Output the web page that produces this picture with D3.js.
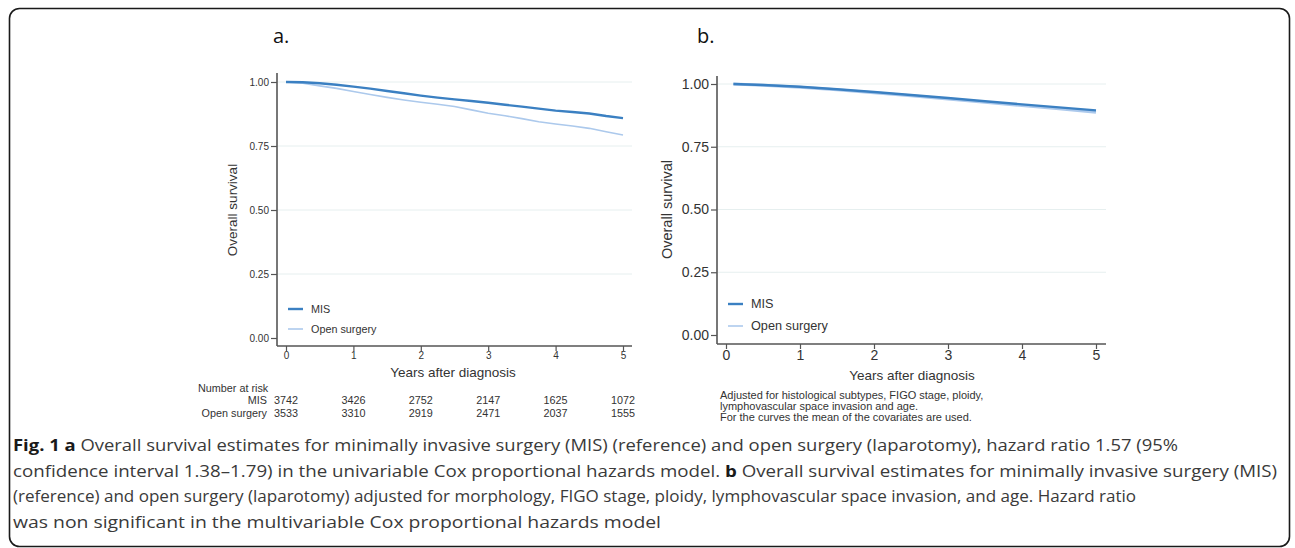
<!DOCTYPE html>
<html>
<head>
<meta charset="UTF-8" />
<script src="https://d3js.org/d3.v7.min.js"></script>
<style>
  body { margin: 0; background: white; }
  svg text { font-family: "Liberation Sans", Arial, sans-serif; fill: #333; }
  .caption text { font-family: "Open Sans", sans-serif; fill: #3a3a3a; }
</style>
</head>
<body>
<svg id="fig" width="1295" height="548"></svg>
<script>
// ---- data ----
const yearTicks = [0, 1, 2, 3, 4, 5];
const survTicks = [0, 0.25, 0.5, 0.75, 1];

// panel a: Kaplan-Meier estimates
const timesA = [0, 0.25, 0.5, 0.75, 1, 1.25, 1.5, 1.75, 2, 2.25, 2.5, 2.75, 3, 3.25, 3.5, 3.75, 4, 4.25, 4.5, 4.75, 5];
const misA  = [1.000, 0.999, 0.995, 0.989, 0.982, 0.974, 0.965, 0.956, 0.947, 0.939, 0.932, 0.926, 0.919, 0.911, 0.904, 0.896, 0.888, 0.883, 0.877, 0.867, 0.859];
const openA = [1.000, 0.995, 0.985, 0.975, 0.963, 0.951, 0.940, 0.930, 0.921, 0.913, 0.904, 0.891, 0.878, 0.868, 0.857, 0.845, 0.836, 0.828, 0.819, 0.806, 0.793];

// panel b: adjusted Cox curves
const timesB = [0.1, 0.5, 1, 1.5, 2, 2.5, 3, 3.5, 4, 4.5, 5];
const misB  = [1.000, 0.996, 0.989, 0.979, 0.968, 0.956, 0.944, 0.931, 0.919, 0.907, 0.895];
const openB = [1.000, 0.995, 0.987, 0.977, 0.965, 0.953, 0.940, 0.927, 0.914, 0.901, 0.887];

const riskGroups = ['MIS', 'Open surgery'];
const riskMIS  = [3742, 3426, 2752, 2147, 1625, 1072];
const riskOpen = [3533, 3310, 2919, 2471, 2037, 1555];

const noteLines = [
  'Adjusted for histological subtypes, FIGO stage, ploidy,',
  'lymphovascular space invasion and age.',
  'For the curves the mean of the covariates are used.'
];

const captionLines = [
  [['Fig. 1 a', true], [' Overall survival estimates for minimally invasive surgery (MIS) (reference) and open surgery (laparotomy), hazard ratio 1.57 (95%', false]],
  [['confidence interval 1.38–1.79) in the univariable Cox proportional hazards model. ', false], ['b', true], [' Overall survival estimates for minimally invasive surgery (MIS)', false]],
  [['(reference) and open surgery (laparotomy) adjusted for morphology, FIGO stage, ploidy, lymphovascular space invasion, and age. Hazard ratio', false]],
  [['was non significant in the multivariable Cox proportional hazards model', false]]
];

const misColor = '#3b80c2';
const openColor = '#acc9ec';

const svg = d3.select('svg#fig');

// outer frame
svg.append('rect')
  .attr('x', 9.5).attr('y', 8.5)
  .attr('width', 1280).attr('height', 538)
  .attr('rx', 10).attr('ry', 10)
  .style('fill', 'none')
  .style('stroke', '#1a1a1a')
  .style('stroke-width', 1.6);

// panel letters
svg.append('text').attr('x', 273).attr('y', 43)
  .style('font-family', '"Open Sans", sans-serif').style('font-size', '20px').style('fill', '#111')
  .text('a.');
svg.append('text').attr('x', 697).attr('y', 43)
  .style('font-family', '"Open Sans", sans-serif').style('font-size', '20px').style('fill', '#111')
  .text('b.');

function drawPanel(p) {
  const g = svg.append('g');
  const x = d3.scaleLinear().domain([0, 5]).range([p.x0, p.x5]);
  const y = d3.scaleLinear().domain([0, 1]).range([p.y0, p.y1]);

  // gridlines
  survTicks.filter(d => d > 0).forEach(d => {
    g.append('line')
      .attr('x1', p.axisX + 1).attr('x2', p.axisRight)
      .attr('y1', y(d)).attr('y2', y(d))
      .style('stroke', '#e6efef')
      .style('stroke-width', 1);
  });

  // y axis
  const yAxis = g.append('g')
    .attr('transform', `translate(${p.axisX},0)`)
    .call(d3.axisLeft(y).tickValues(survTicks).tickFormat(d3.format('.2f')).tickSize(6).tickPadding(2));
  yAxis.select('.domain').remove();
  yAxis.selectAll('.tick line').style('stroke', '#555').style('stroke-width', 1.2);
  yAxis.selectAll('.tick text').style('font-size', p.tickFont + 'px')
    .style('font-family', '"Liberation Sans", Arial, sans-serif').attr('fill', '#333');

  // x axis
  const xAxis = g.append('g')
    .attr('transform', `translate(0,${p.axisY})`)
    .call(d3.axisBottom(x).tickValues(yearTicks).tickFormat(d3.format('d')).tickSize(5).tickPadding(1));
  xAxis.select('.domain').remove();
  xAxis.selectAll('.tick line').style('stroke', '#555').style('stroke-width', 1.2);
  xAxis.selectAll('.tick text').style('font-size', p.tickFont + 'px')
    .style('font-family', '"Liberation Sans", Arial, sans-serif').attr('fill', '#333');

  // axis lines
  g.append('line')
    .attr('x1', p.axisX).attr('x2', p.axisX)
    .attr('y1', p.axisTop).attr('y2', p.axisY)
    .style('stroke', '#555').style('stroke-width', 1.6);
  g.append('line')
    .attr('x1', p.axisX).attr('x2', p.axisRight)
    .attr('y1', p.axisY).attr('y2', p.axisY)
    .style('stroke', '#555').style('stroke-width', 1.6);

  // curves
  const line = d3.line().x(d => x(d[0])).y(d => y(d[1]));
  g.append('path')
    .datum(p.times.map((t, i) => [t, p.open[i]]))
    .attr('d', line)
    .style('fill', 'none').style('stroke', openColor).style('stroke-width', p.openWidth);
  g.append('path')
    .datum(p.times.map((t, i) => [t, p.mis[i]]))
    .attr('d', line)
    .style('fill', 'none').style('stroke', misColor).style('stroke-width', 2.4);

  // axis titles
  g.append('text')
    .attr('transform', `translate(${p.yTitleX},${(p.y0 + p.y1) / 2}) rotate(-90)`)
    .attr('text-anchor', 'middle')
    .style('font-size', p.yTitleFont + 'px')
    .text('Overall survival');
  g.append('text')
    .attr('x', p.xTitleX).attr('y', p.xTitleY)
    .attr('text-anchor', 'middle')
    .style('font-size', '13.5px')
    .text('Years after diagnosis');

  // legend
  const legend = [['MIS', misColor, 2.4], ['Open surgery', openColor, 1.6]];
  legend.forEach((d, i) => {
    const ly = p.legY + i * p.legStep;
    g.append('line')
      .attr('x1', p.legX).attr('x2', p.legX + 15)
      .attr('y1', ly).attr('y2', ly)
      .style('stroke', d[1]).style('stroke-width', d[2]);
    g.append('text')
      .attr('x', p.legX + 23).attr('y', ly)
      .attr('dy', '0.35em')
      .style('font-size', p.legFont + 'px')
      .text(d[0]);
  });

  return x;
}

const xA = drawPanel({
  x0: 286, x5: 623, y0: 338, y1: 82,
  axisX: 277, axisY: 346, axisTop: 73, axisRight: 632,
  tickFont: 10, yTitleX: 237, yTitleFont: 13.5,
  xTitleX: 453, xTitleY: 377,
  times: timesA, mis: misA, open: openA, openWidth: 1.6,
  legX: 288, legY: 309, legStep: 20, legFont: 10.8
});

const xB = drawPanel({
  x0: 726, x5: 1096, y0: 335, y1: 84,
  axisX: 717, axisY: 344, axisTop: 76, axisRight: 1106,
  tickFont: 14, yTitleX: 672, yTitleFont: 14.5,
  xTitleX: 912, xTitleY: 380,
  times: timesB, mis: misB, open: openB, openWidth: 3,
  legX: 728, legY: 304, legStep: 22, legFont: 12.7
});

// number at risk table (panel a)
svg.append('text').attr('x', 198).attr('y', 392)
  .style('font-size', '10.8px').text('Number at risk');
[riskMIS, riskOpen].forEach((row, r) => {
  const by = 404 + r * 13;
  svg.append('text').attr('x', 267).attr('y', by)
    .attr('text-anchor', 'end').style('font-size', '10.8px').text(riskGroups[r]);
  svg.append('g').selectAll('text')
    .data(row)
    .join('text')
    .attr('x', (d, i) => xA(yearTicks[i]))
    .attr('y', by)
    .attr('text-anchor', 'middle')
    .style('font-size', '10.8px')
    .text(d => d);
});

// note under panel b
svg.append('g').selectAll('text')
  .data(noteLines)
  .join('text')
  .attr('x', 720)
  .attr('y', (d, i) => 399 + i * 11)
  .style('font-size', '11px')
  .text(d => d);

// figure caption
const lineEnds = [1178, 1277, 1136, 661];
const cap = svg.append('g').attr('class', 'caption');
captionLines.forEach((parts, i) => {
  const t = cap.append('text')
    .attr('x', 13)
    .attr('y', 451 + i * 25.5)
    .attr('textLength', lineEnds[i] - 13)
    .attr('lengthAdjust', 'spacingAndGlyphs')
    .style('font-size', '16px');
  parts.forEach(pt => {
    t.append('tspan')
      .style('font-weight', pt[1] ? 'bold' : 'normal')
      .style('fill', pt[1] ? '#1a1a1a' : '#3a3a3a')
      .text(pt[0]);
  });
});
</script>
</body>
</html>
